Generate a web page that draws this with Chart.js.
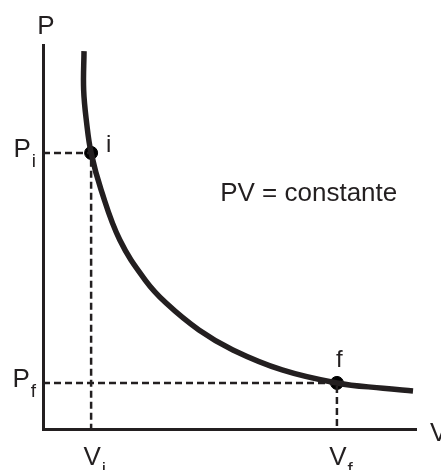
<!DOCTYPE html>
<html>
<head>
<meta charset="utf-8">
<script src="https://cdn.jsdelivr.net/npm/chart.js@4.4.1/dist/chart.umd.min.js"></script>
<style>
  html, body { margin: 0; padding: 0; background: #fff; }
</style>
</head>
<body>
<canvas id="chart" width="441" height="470"></canvas>
<script>
// isotherm PV = constant (arbitrary units 0..10)
const curveV = [1.10, 1.09, 1.17, 1.29, 1.56, 2.06, 2.74, 3.30, 4.18, 5.09, 6.41, 7.88, 9.12, 9.92];
const curveP = [9.84, 8.83, 7.97, 7.19, 6.22, 4.92, 3.88, 3.28, 2.58, 2.06, 1.54, 1.20, 1.06, 0.99];

// the two states
const stateNames = ['i', 'f'];
const stateV = [1.29, 7.88];
const stateP = [7.19, 1.20];

const axisMax = 10;
const ink = '#231f20';
const font = '"Liberation Sans", Arial, Helvetica, sans-serif';

let curve = curveV.map((v, k) => ({x: v, y: curveP[k]}));
let states = stateV.map((v, k) => ({x: v, y: stateP[k]}));

let guides = states.map((s) => ({
    type: 'line',
    data: [{x: 0, y: s.y}, {x: s.x, y: s.y}, {x: s.x, y: 0}],
    borderColor: ink,
    borderWidth: 2.5,
    borderDash: [7, 4],
    pointRadius: 0,
    tension: 0
}));

// text with a subscript, anchor 'right' or 'center' (center on the main letter)
function subText(ctx, main, sub, x, y, anchor) {
    ctx.font = '26px ' + font;
    let w = ctx.measureText(main).width;
    ctx.font = '19px ' + font;
    let ws = ctx.measureText(sub).width;
    let left = anchor === 'right' ? x - w - ws : x - w / 2;
    ctx.textAlign = 'left';
    ctx.textBaseline = 'alphabetic';
    ctx.font = '26px ' + font;
    ctx.fillText(main, left, y);
    ctx.font = '19px ' + font;
    ctx.fillText(sub, left + w + 1, y + 10);
}

const labels = {
    id: 'labels',
    afterDatasetsDraw(chart) {
        let ctx = chart.ctx;
        let xs = chart.scales.x, ys = chart.scales.y;
        ctx.save();
        ctx.fillStyle = ink;

        // tick labels on both axes
        stateNames.forEach((name, k) => {
            subText(ctx, 'P', name, xs.left - 8, ys.getPixelForValue(stateP[k]) + 4, 'right');
            subText(ctx, 'V', name, xs.getPixelForValue(stateV[k]) + 1, ys.bottom + 36, 'center');
        });

        // axis names
        ctx.font = '26px ' + font;
        ctx.textAlign = 'center';
        ctx.textBaseline = 'alphabetic';
        ctx.fillText('P', xs.left + 3, ys.top - 11);
        ctx.textAlign = 'left';
        ctx.fillText('V', xs.right + 14, ys.bottom + 12);

        // point names
        ctx.font = '24px ' + font;
        ctx.fillText('i', xs.getPixelForValue(stateV[0]) + 15, ys.getPixelForValue(stateP[0]) - 1);
        ctx.fillText('f', xs.getPixelForValue(stateV[1]) - 1, ys.getPixelForValue(stateP[1]) - 16);

        ctx.font = '26px ' + font;
        ctx.fillText('PV = constante', xs.getPixelForValue(4.75), ys.getPixelForValue(5.95));
        ctx.restore();
    }
};

new Chart(document.getElementById('chart'), {
    type: 'scatter',
    data: {
        datasets: [
            ...guides,
            {
                type: 'line',
                data: curve,
                borderColor: ink,
                borderWidth: 5.5,
                pointRadius: 0,
                tension: 0.4,
                borderCapStyle: 'butt'
            },
            {
                data: states,
                backgroundColor: '#000',
                borderColor: '#000',
                pointRadius: 6.5,
                showLine: false
            }
        ]
    },
    options: {
        responsive: false,
        animation: false,
        events: [],
        layout: {padding: {left: 43, right: 25, top: 45, bottom: 41}},
        plugins: {legend: {display: false}, tooltip: {enabled: false}},
        scales: {
            x: {
                type: 'linear', min: 0, max: axisMax,
                grid: {display: false, drawTicks: false},
                ticks: {display: false},
                border: {display: true, color: ink, width: 3}
            },
            y: {
                type: 'linear', min: 0, max: axisMax,
                grid: {display: false, drawTicks: false},
                ticks: {display: false},
                border: {display: true, color: ink, width: 3}
            }
        }
    },
    plugins: [labels]
});
</script>
</body>
</html>
